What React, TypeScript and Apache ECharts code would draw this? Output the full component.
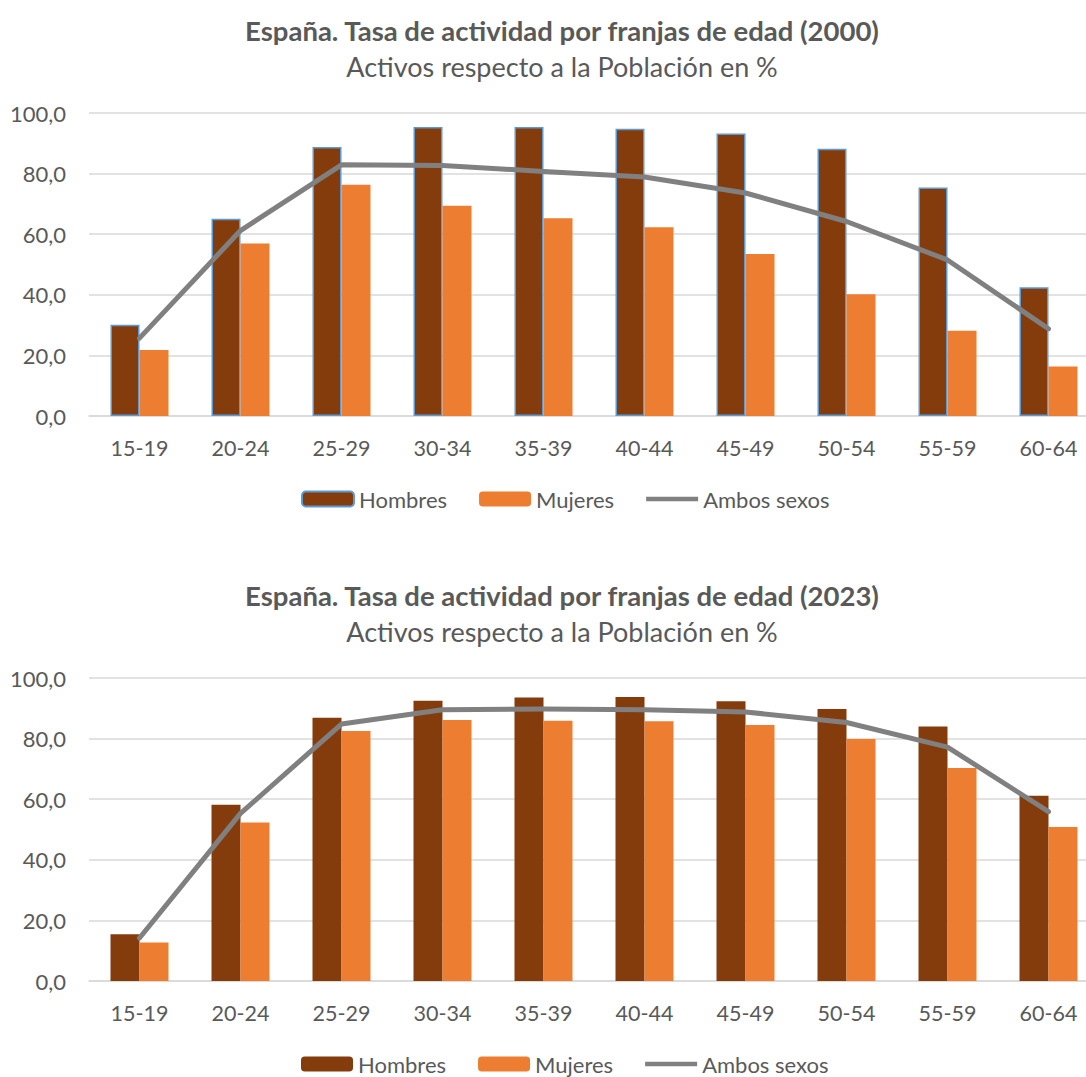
import React, { useEffect, useRef } from "react";
import * as echarts from "echarts";

const categories = ["15-19", "20-24", "25-29", "30-34", "35-39", "40-44", "45-49", "50-54", "55-59", "60-64"];
const hombres2000 = [30.1, 65.1, 88.8, 95.4, 95.4, 94.8, 93.2, 88.2, 75.4, 42.5];
const mujeres2000 = [21.8, 56.9, 76.3, 69.4, 65.3, 62.3, 53.5, 40.2, 28.1, 16.3];
const ambos2000 = [25.7, 61.2, 82.9, 82.7, 80.7, 78.9, 73.6, 64.2, 51.5, 28.8];
const hombres2023 = [15.4, 58.2, 86.9, 92.5, 93.6, 93.7, 92.3, 89.8, 84.0, 61.1];
const mujeres2023 = [12.7, 52.3, 82.5, 86.1, 85.9, 85.7, 84.5, 79.9, 70.3, 50.8];
const ambos2023 = [14.2, 55.3, 84.8, 89.5, 89.8, 89.5, 88.8, 85.3, 77.2, 55.9];
const yTicks = { min: 0, max: 100, interval: 20 };
const titles = [
  "España. Tasa de actividad por franjas de edad (2000)",
  "España. Tasa de actividad por franjas de edad (2023)",
];
const subtitle = "Activos respecto a la Población en %";
const legendNames = ["Hombres", "Mujeres", "Ambos sexos"];

const FONT = "Lato";
const TEXT = "#595959";
const GRID = "#D9D9D9";
const LINE_ICON = "path://M0,0L0.01,0ZM0,5.25L52,5.25L52,9.75L0,9.75ZM0,15L0.01,15Z";

function buildOption(title: string, h: number[], m: number[], a: number[], border: boolean) {
  return {
    animation: false,
    textStyle: { fontFamily: FONT },
    graphic: [
      {
        type: "text",
        x: 562,
        y: 30,
        style: { text: title, fontFamily: FONT, fontWeight: "bold", fontSize: 27.5, fill: TEXT, textAlign: "center", textVerticalAlign: "middle" },
      },
      {
        type: "text",
        x: 562,
        y: 66,
        style: { text: subtitle, fontFamily: FONT, fontSize: 27, fill: TEXT, textAlign: "center", textVerticalAlign: "middle" },
      },
    ],
    legend: {
      left: 301,
      top: 488,
      padding: 0,
      itemWidth: 52,
      itemHeight: 15,
      itemGap: 32,
      textStyle: { fontFamily: FONT, fontSize: 22, color: TEXT },
      data: [
        { name: legendNames[0] },
        { name: legendNames[1] },
        { name: legendNames[2], icon: LINE_ICON },
      ],
    },
    grid: { left: 89, right: 1, top: 113, height: 303, containLabel: false },
    xAxis: {
      type: "category",
      data: categories,
      axisLine: { lineStyle: { color: GRID, width: 1.5 } },
      axisTick: { show: false },
      axisLabel: { color: TEXT, fontSize: 21.5, fontFamily: FONT, margin: 21 },
    },
    yAxis: {
      type: "value",
      min: yTicks.min,
      max: yTicks.max,
      interval: yTicks.interval,
      axisLine: { show: false },
      axisTick: { show: false },
      splitLine: { lineStyle: { color: GRID, width: 1.5 } },
      axisLabel: {
        color: TEXT,
        fontSize: 22,
        fontFamily: FONT,
        margin: 23,
        formatter: (v: number) => v.toFixed(1).replace(".", ","),
      },
    },
    series: [
      {
        name: legendNames[0],
        type: "bar",
        data: h,
        barWidth: 29,
        barGap: "0%",
        itemStyle: border
          ? { color: "#843C0C", borderColor: "#5B9BD5", borderWidth: 1.5 }
          : { color: "#843C0C" },
      },
      {
        name: legendNames[1],
        type: "bar",
        data: m,
        barWidth: 29,
        barGap: "0%",
        itemStyle: { color: "#ED7D31" },
      },
      {
        name: legendNames[2],
        type: "line",
        data: a,
        symbol: "none",
        lineStyle: { color: "#808080", width: 5, cap: "round", join: "round" },
        itemStyle: { color: "#808080" },
      },
    ],
  };
}

function Chart({ option, top, height }: { option: any; top: number; height: number }) {
  const ref = useRef<HTMLDivElement>(null);
  useEffect(() => {
    if (!ref.current) return;
    const chart = echarts.init(ref.current, undefined, { renderer: "svg" });
    chart.setOption(option);
    return () => chart.dispose();
  }, [option]);
  return <div ref={ref} style={{ position: "absolute", left: 0, top, width: 1100, height }} />;
}

const option1 = buildOption(titles[0], hombres2000, mujeres2000, ambos2000, true);
const option2 = buildOption(titles[1], hombres2023, mujeres2023, ambos2023, false);

export default function App() {
  return (
    <div style={{ position: "absolute", left: 0, top: 0, width: 1086, height: 1077, overflow: "hidden", background: "#fff" }}>
      <Chart option={option1} top={0} height={565} />
      <Chart option={option2} top={565} height={512} />
    </div>
  );
}
